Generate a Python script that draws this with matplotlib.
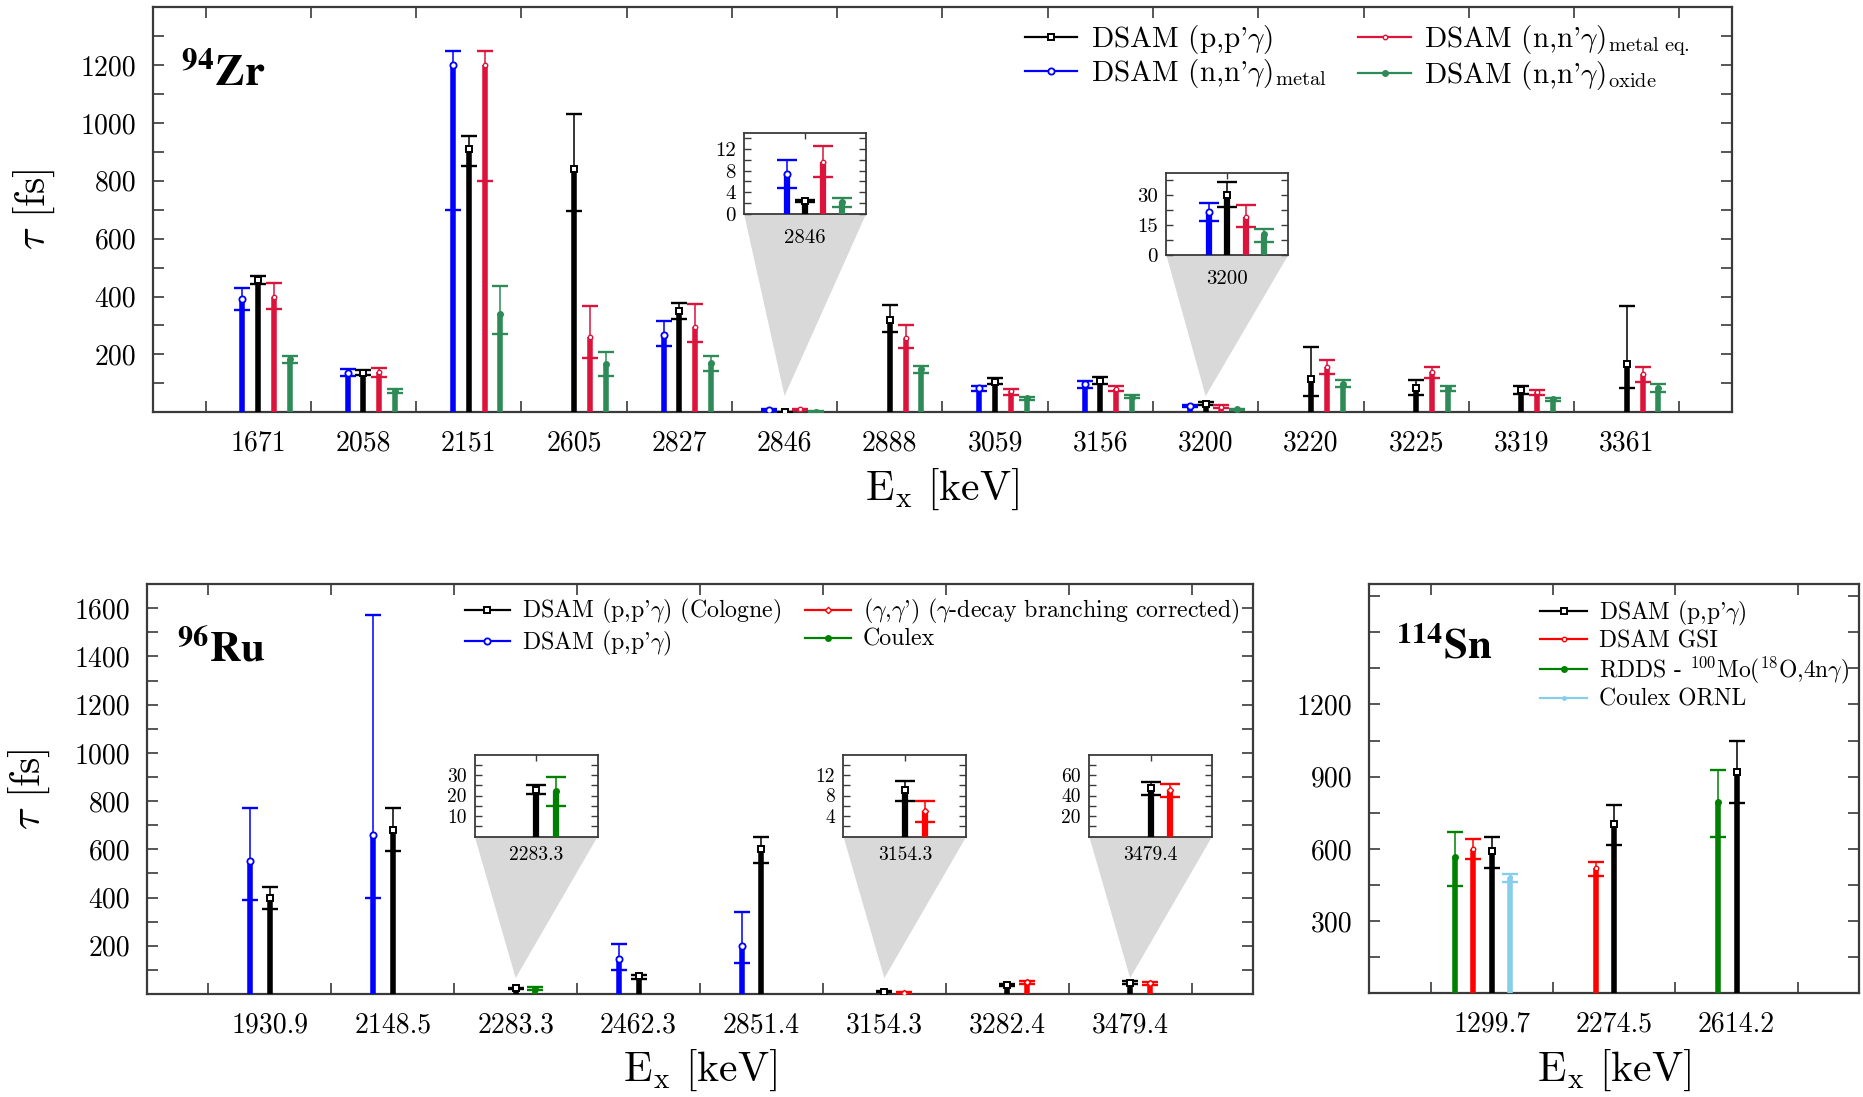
import numpy as np
import matplotlib
matplotlib.use('Agg')
import matplotlib.pyplot as plt
from matplotlib.lines import Line2D

nan = np.nan

# ---------------- 94Zr lifetimes [fs]: value, upper bound, lower bound
zr_levels = ['1671', '2058', '2151', '2605', '2827', '2846', '2888',
             '3059', '3156', '3200', '3220', '3225', '3319', '3361']

zr_pp = [458, 137, 910, 840, 351, 2.4, 320, 104, 108, 29.8, 115, 84, 78, 167]
zr_pp_hi = [472, 146, 955, 1031, 377, 2.6, 372, 118, 123, 36.6, 225, 113, 90, 369]
zr_pp_lo = [444, 129, 850, 694, 323, 2.2, 277, 96, 96, 23.9, 55, 60, 63, 83]

zr_metal = [390, 137, 1200, nan, 268, 7.3, nan, 83, 96, 21.5, nan, nan, nan, nan]
zr_metal_hi = [430, 150, 1250, nan, 314, 10.0, nan, 92, 107, 26.0, nan, nan, nan, nan]
zr_metal_lo = [355, 127, 700, nan, 230, 4.7, nan, 73, 84, 17.0, nan, nan, nan, nan]

zr_metaleq = [397, 140, 1200, 260, 296, 9.6, 257, 72, 81, 18.8, 156, 138, 69, 133]
zr_metaleq_hi = [448, 153, 1250, 369, 374, 12.6, 300, 81, 92, 25.1, 182, 158, 78, 158]
zr_metaleq_lo = [358, 123, 800, 189, 242, 6.8, 223, 61, 75, 14.0, 133, 119, 58, 106]

zr_oxide = [183, 75, 340, 166, 170, 2.15, 150, 48, 52, 10.2, 98, 84, 46, 85]
zr_oxide_hi = [195, 81, 437, 210, 193, 3.0, 161, 52, 58, 12.8, 110, 92, 50, 96]
zr_oxide_lo = [170, 66, 271, 126, 144, 1.2, 136, 43, 48, 6.5, 87, 75, 38, 69]

# ---------------- 96Ru
ru_levels = ['1930.9', '2148.5', '2283.3', '2462.3', '2851.4', '3154.3', '3282.4', '3479.4']

ru_cologne = [400, 680, 22.8, 73, 600, 9.1, 37, 47.2]
ru_cologne_hi = [443, 770, 24.9, 79, 650, 10.9, 41, 53.0]
ru_cologne_lo = [353, 591, 20.8, 62, 544, 6.95, 32, 40.7]

ru_pp = [550, 660, nan, 145, 200, nan, nan, nan]
ru_pp_hi = [770, 1570, nan, 207, 342, nan, nan, nan]
ru_pp_lo = [390, 400, nan, 100, 129, nan, nan, nan]

ru_gg = [nan, nan, nan, nan, nan, 4.9, 48, 45.6]
ru_gg_hi = [nan, nan, nan, nan, nan, 6.95, 53, 51.1]
ru_gg_lo = [nan, nan, nan, nan, nan, 2.9, 41, 38.4]

ru_coulex = [nan, nan, 22.3, nan, nan, nan, nan, nan]
ru_coulex_hi = [nan, nan, 29.0, nan, nan, nan, nan, nan]
ru_coulex_lo = [nan, nan, 15.0, nan, nan, nan, nan, nan]

# ---------------- 114Sn
sn_levels = ['1299.7', '2274.5', '2614.2']

sn_pp = [590, 702, 921]
sn_pp_hi = [651, 783, 1050]
sn_pp_lo = [522, 616, 789]

sn_gsi = [600, 519, nan]
sn_gsi_hi = [640, 547, nan]
sn_gsi_lo = [560, 489, nan]

sn_rdds = [565, nan, 794]
sn_rdds_hi = [669, nan, 928]
sn_rdds_lo = [447, nan, 648]

sn_ornl = [485, nan, nan]
sn_ornl_hi = [497, nan, nan]
sn_ornl_lo = [461, nan, nan]

# bar positions inside a Sn group (bars sit next to each other)
sn_pp_shift = [0.0, 0.0, 0.0]
sn_gsi_shift = [-0.15, -0.15, 0.0]
sn_rdds_shift = [-0.30, 0.0, -0.15]
sn_ornl_shift = [0.15, 0.0, 0.0]

plt.rcParams['font.family'] = 'cmr10'
plt.rcParams['mathtext.fontset'] = 'cm'
plt.rcParams['axes.formatter.use_mathtext'] = True

SPINE = '#3a3a3a'

BLUE = '#0000ff'
CRIMSON = '#dc143c'
SEAGREEN = '#2e8b57'
RED = '#ff0000'
GREEN = '#008000'
SKY = '#87ceeb'

mk_square = dict(marker='s', ms=5, mfc='white', mew=1.4)
mk_circle = dict(marker='o', ms=4.5, mfc='white', mew=1.3)
mk_small = dict(marker='o', ms=3.2, mfc='white', mew=1.0)
mk_diamond = dict(marker='D', ms=3.2, mfc='white', mew=1.0)
mk_dot = dict(marker='o', ms=5, mew=0)
mk_smalldot = dict(marker='o', ms=3.5, mew=0)


def draw_series(ax, x, val, hi, lo, color, mk, thick=4.0, thin=1.1, cap=11):
    x = np.asarray(x, float)
    val = np.asarray(val, float)
    hi = np.asarray(hi, float)
    lo = np.asarray(lo, float)
    ok = ~np.isnan(val)
    x, val, hi, lo = x[ok], val[ok], hi[ok], lo[ok]
    ax.vlines(x, 0, val, color=color, lw=thick, capstyle='butt', zorder=3)
    ax.vlines(x, val, hi, color=color, lw=thin, capstyle='butt', zorder=3)
    for ends in (hi, lo):
        ax.plot(x, ends, ls='none', marker='_', ms=cap, mew=1.7, color=color, zorder=4)
    ax.plot(x, val, ls='none', color=color, mec=color, zorder=5, **mk)


def style_main(ax, levels, ytop, ymajor, ystep, fs=20):
    n = len(levels)
    ax.set_xlim(-1, n)
    ax.set_ylim(0, ytop)
    ax.set_xticks(np.arange(n))
    ax.set_xticklabels(levels)
    ax.set_xticks(np.arange(-0.5, n), minor=True)
    ax.tick_params(axis='x', which='major', length=0, pad=13, labelsize=fs)
    ax.tick_params(axis='x', which='minor', direction='in', top=True, bottom=True,
                   length=8, width=1.2, color=SPINE)
    ax.set_yticks(ymajor)
    ax.set_yticklabels([str(v) for v in ymajor])
    ax.set_yticks(np.arange(ystep, ytop, ystep), minor=True)
    ax.tick_params(axis='y', which='both', direction='in', left=True, right=True,
                   length=8, width=1.2, color=SPINE, labelsize=fs, pad=12)
    for s in ax.spines.values():
        s.set_color(SPINE)
        s.set_linewidth(1.6)


def add_zoom(ax, c, box, apex, ylim, ylabels, ystep, draw, fs, xpad):
    x0, y0, w, h = box
    ax.fill([x0, x0 + w, c], [y0, y0, apex], color='#d9d9d9', lw=0, zorder=0.5)
    ins = ax.inset_axes([x0, y0, w, h], transform=ax.transData)
    draw(ins, thick=4.5, cap=14)
    ins.set_xlim(c - 0.5, c + 0.5)
    ins.set_ylim(*ylim)
    ins.set_xticks([c])
    ins.set_xticklabels([ax.get_xticklabels()[c].get_text()])
    ins.tick_params(axis='x', bottom=False, top=True, direction='in', length=4,
                    width=1.0, color=SPINE, labelsize=fs, pad=xpad)
    ins.set_yticks(ylabels)
    ins.set_yticklabels([f'{t:g}' for t in ylabels])
    ins.set_yticks(np.arange(ystep, ylim[1], ystep), minor=True)
    ins.tick_params(axis='y', which='both', direction='in', left=True, right=True,
                    length=5, width=1.0, color=SPINE, labelsize=fs, pad=6)
    for s in ins.spines.values():
        s.set_color(SPINE)
        s.set_linewidth(1.3)
    return ins


fig = plt.figure(figsize=(18.63, 10.97), dpi=100)
ax_zr = fig.add_axes([0.0821, 0.6242, 0.8476, 0.3692])
ax_ru = fig.add_axes([0.0789, 0.0939, 0.5937, 0.3737])
ax_sn = fig.add_axes([0.7350, 0.0945, 0.2629, 0.3731])

# ---------------- 94Zr panel
xz = np.arange(len(zr_levels))


def draw_zr(ax, thick=4.0, cap=11):
    draw_series(ax, xz - 0.15, zr_metal, zr_metal_hi, zr_metal_lo, BLUE, mk_circle, thick=thick, cap=cap)
    draw_series(ax, xz, zr_pp, zr_pp_hi, zr_pp_lo, 'black', mk_square, thick=thick, cap=cap)
    draw_series(ax, xz + 0.15, zr_metaleq, zr_metaleq_hi, zr_metaleq_lo, CRIMSON, mk_small, thick=thick, cap=cap)
    draw_series(ax, xz + 0.30, zr_oxide, zr_oxide_hi, zr_oxide_lo, SEAGREEN, mk_dot, thick=thick, cap=cap)


draw_zr(ax_zr)
style_main(ax_zr, zr_levels, 1400, range(200, 1201, 200), 100)
ax_zr.set_xlabel(r'$\mathrm{E_x}$ [keV]', fontsize=30)
ax_zr.xaxis.set_label_coords(0.5, -0.135)
ax_zr.set_ylabel(r'$\tau$ [fs]', fontsize=30)
ax_zr.yaxis.set_label_coords(-0.061, 0.5)
ax_zr.text(0.018, 0.805, r'$^{\mathbf{94}}\mathbf{Zr}$', transform=ax_zr.transAxes,
           fontsize=32, math_fontfamily='stix', va='baseline')

add_zoom(ax_zr, 5, (4.615, 686, 1.16, 280), 56, (0, 15), [0, 4, 8, 12], 2, draw_zr, 15, 11)
add_zoom(ax_zr, 9, (8.626, 544, 1.16, 284), 56, (0, 41), [0, 15, 30], 7.5, draw_zr, 15, 11)

zr_handles = [
    Line2D([], [], color='black', lw=1.6, **mk_square),
    Line2D([], [], color=BLUE, lw=1.6, **mk_circle),
    Line2D([], [], color=CRIMSON, lw=1.6, **mk_small),
    Line2D([], [], color=SEAGREEN, lw=1.6, **mk_dot),
]
zr_labels = [r"DSAM (p,p'$\gamma$)",
             r"DSAM (n,n'$\gamma$)$_{\mathrm{metal}}$",
             r"DSAM (n,n'$\gamma$)$_{\mathrm{metal\ eq.}}$",
             r"DSAM (n,n'$\gamma$)$_{\mathrm{oxide}}$"]
ax_zr.legend(zr_handles, zr_labels, ncol=2, loc='upper right', bbox_to_anchor=(0.99, 1.025),
             frameon=False, fontsize=21, handlelength=1.8, handletextpad=0.45,
             columnspacing=1.1, labelspacing=0.02)

# ---------------- 96Ru panel
xr = np.arange(len(ru_levels))


def draw_ru(ax, thick=4.0, cap=11):
    draw_series(ax, xr - 0.16, ru_pp, ru_pp_hi, ru_pp_lo, BLUE, mk_circle, thick=thick, cap=cap)
    draw_series(ax, xr, ru_cologne, ru_cologne_hi, ru_cologne_lo, 'black', mk_square, thick=thick, cap=cap)
    draw_series(ax, xr + 0.16, ru_gg, ru_gg_hi, ru_gg_lo, RED, mk_diamond, thick=thick, cap=cap)
    draw_series(ax, xr + 0.16, ru_coulex, ru_coulex_hi, ru_coulex_lo, GREEN, mk_dot, thick=thick, cap=cap)


draw_ru(ax_ru)
style_main(ax_ru, ru_levels, 1700, range(200, 1601, 200), 100)
ax_ru.set_xlabel(r'$\mathrm{E_x}$ [keV]', fontsize=30)
ax_ru.xaxis.set_label_coords(0.5, -0.132)
ax_ru.set_ylabel(r'$\tau$ [fs]', fontsize=30)
ax_ru.yaxis.set_label_coords(-0.086, 0.5)
ax_ru.text(0.027, 0.81, r'$^{\mathbf{96}}\mathbf{Ru}$', transform=ax_ru.transAxes,
           fontsize=31, math_fontfamily='stix', va='baseline')

add_zoom(ax_ru, 2, (1.667, 653, 1.0, 340), 66, (0, 40), [10, 20, 30], 5, draw_ru, 14, 7)
add_zoom(ax_ru, 5, (4.667, 653, 1.0, 340), 66, (0, 16), [4, 8, 12], 2, draw_ru, 14, 7)
add_zoom(ax_ru, 7, (6.667, 653, 1.0, 340), 66, (0, 80), [20, 40, 60], 10, draw_ru, 14, 7)

ru_handles = [
    Line2D([], [], color='black', lw=1.6, **mk_square),
    Line2D([], [], color=BLUE, lw=1.6, **mk_circle),
    Line2D([], [], color=RED, lw=1.6, **mk_diamond),
    Line2D([], [], color=GREEN, lw=1.6, **mk_dot),
]
ru_labels = [r"DSAM (p,p'$\gamma$) (Cologne)",
             r"DSAM (p,p'$\gamma$)",
             r"($\gamma$,$\gamma$') ($\gamma$-decay branching corrected)",
             "Coulex"]
ax_ru.legend(ru_handles, ru_labels, ncol=2, loc='upper right', bbox_to_anchor=(1.007, 1.02),
             frameon=False, fontsize=17.2, handlelength=1.9, handletextpad=0.5,
             columnspacing=1.0, labelspacing=0.1)

# ---------------- 114Sn panel
xs = np.arange(len(sn_levels))
draw_series(ax_sn, xs + np.array(sn_rdds_shift), sn_rdds, sn_rdds_hi, sn_rdds_lo, GREEN, mk_dot)
draw_series(ax_sn, xs + np.array(sn_gsi_shift), sn_gsi, sn_gsi_hi, sn_gsi_lo, RED, mk_small)
draw_series(ax_sn, xs + np.array(sn_pp_shift), sn_pp, sn_pp_hi, sn_pp_lo, 'black', mk_square)
draw_series(ax_sn, xs + np.array(sn_ornl_shift), sn_ornl, sn_ornl_hi, sn_ornl_lo, SKY, mk_smalldot)
style_main(ax_sn, sn_levels, 1700, [300, 600, 900, 1200], 150)
ax_sn.set_xlabel(r'$\mathrm{E_x}$ [keV]', fontsize=30)
ax_sn.xaxis.set_label_coords(0.5, -0.132)
ax_sn.text(0.055, 0.817, r'$^{\mathbf{114}}\mathbf{Sn}$', transform=ax_sn.transAxes,
           fontsize=31, math_fontfamily='stix', va='baseline')

sn_handles = [
    Line2D([], [], color='black', lw=1.6, **mk_square),
    Line2D([], [], color=RED, lw=1.6, **mk_small),
    Line2D([], [], color=GREEN, lw=1.6, **mk_dot),
    Line2D([], [], color=SKY, lw=1.6, **mk_smalldot),
]
sn_labels = [r"DSAM (p,p'$\gamma$)", "DSAM GSI",
             r"RDDS - $^{100}$Mo($^{18}$O,4n$\gamma$)", "Coulex ORNL"]
ax_sn.legend(sn_handles, sn_labels, loc='upper left', bbox_to_anchor=(0.305, 1.015),
             frameon=False, fontsize=17, handlelength=2.0, handletextpad=0.5,
             labelspacing=0.1)

fig.savefig('out.png', dpi=100)
